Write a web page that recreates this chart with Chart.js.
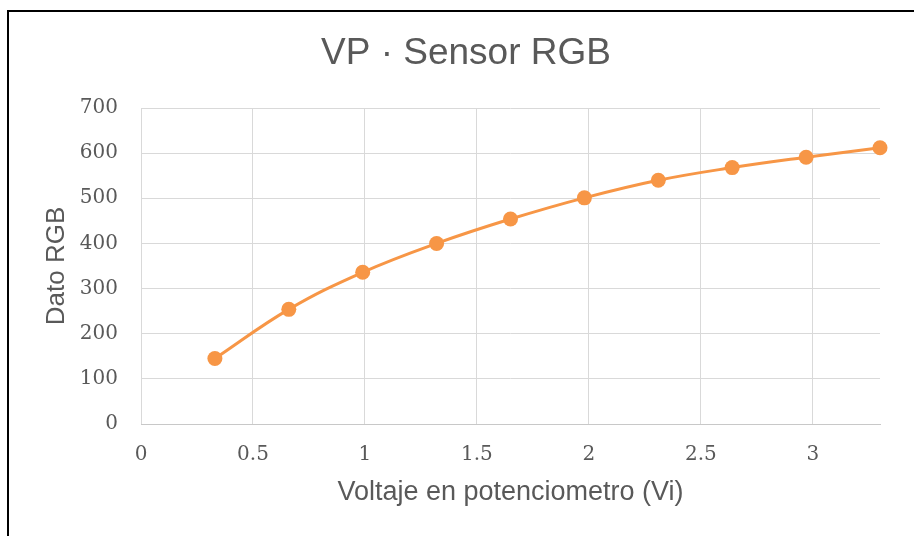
<!DOCTYPE html>
<html>
<head>
<meta charset="utf-8">
<script src="https://cdn.jsdelivr.net/npm/chart.js@4/dist/chart.umd.min.js"></script>
<style>
  html, body { margin: 0; padding: 0; background: #ffffff; }
  #wrap { width: 914px; height: 536px; position: relative; }
</style>
</head>
<body>
<div id="wrap"><canvas id="c" width="914" height="536"></canvas></div>
<script>
// Data
const voltages = [0.33, 0.66, 0.99, 1.32, 1.65, 1.98, 2.31, 2.64, 2.97, 3.3];
const rgbValues = [145, 254, 336, 400, 454, 501, 540, 568, 591, 612];
const xTicks = [0, 0.5, 1, 1.5, 2, 2.5, 3];
const yTicks = [0, 100, 200, 300, 400, 500, 600, 700];
const chartTitle = 'VP · Sensor RGB';
const xTitle = 'Voltaje en potenciometro (Vi)';
const yTitle = 'Dato RGB';

const frame = {
  id: 'frame',
  beforeDraw(chart) {
    const ctx = chart.ctx;
    ctx.save();
    ctx.fillStyle = '#ffffff';
    ctx.fillRect(0, 0, chart.width, chart.height);
    ctx.strokeStyle = '#000000';
    ctx.lineWidth = 2;
    ctx.beginPath();
    ctx.moveTo(8, 536);
    ctx.lineTo(8, 11);
    ctx.lineTo(914, 11);
    ctx.stroke();
    // chart title (centred on the framed box)
    ctx.fillStyle = '#595959';
    ctx.font = '37px "Liberation Sans", Arial, sans-serif';
    ctx.textAlign = 'center';
    ctx.textBaseline = 'alphabetic';
    ctx.fillText(chartTitle, 466, 64);
    ctx.restore();
  }
};

new Chart(document.getElementById('c'), {
  type: 'scatter',
  data: {
    datasets: [{
      data: voltages.map((v, i) => ({ x: v, y: rgbValues[i] })),
      showLine: true,
      borderColor: '#F79646',
      backgroundColor: '#F79646',
      borderWidth: 3,
      pointRadius: 7.5,
      pointHoverRadius: 7.5,
      pointBorderWidth: 0,
      tension: 0.4,
      clip: false
    }]
  },
  options: {
    responsive: false,
    animation: false,
    layout: { padding: { left: 0, right: 34, top: 108, bottom: 0 } },
    plugins: {
      legend: { display: false },
      tooltip: { enabled: false },
      title: { display: false }
    },
    scales: {
      x: {
        type: 'linear',
        min: 0,
        max: 3.3,
        afterBuildTicks(scale) { scale.ticks = xTicks.map(v => ({ value: v })); },
        afterFit(scale) { scale.height = 112; },
        grid: { color: '#D9D9D9', lineWidth: 1, drawTicks: false },
        border: { display: true, color: '#C8C8C8', width: 1 },
        ticks: {
          color: '#595959',
          padding: 19,
          font: { family: 'DejaVu Serif, Liberation Serif, serif', size: 20 },
          callback: v => String(v)
        },
        title: {
          display: true,
          text: xTitle,
          color: '#595959',
          font: { family: 'Liberation Sans, Arial, sans-serif', size: 27 },
          padding: { top: 0, bottom: 27 }
        }
      },
      y: {
        type: 'linear',
        min: 0,
        max: 700,
        afterBuildTicks(scale) { scale.ticks = yTicks.map(v => ({ value: v })); },
        afterFit(scale) { scale.width = 141; },
        grid: { color: '#D9D9D9', lineWidth: 1, drawTicks: false },
        border: { display: false },
        ticks: {
          color: '#595959',
          padding: 23,
          font: { family: 'DejaVu Serif, Liberation Serif, serif', size: 20 }
        },
        title: {
          display: true,
          text: yTitle,
          color: '#595959',
          font: { family: 'Liberation Sans, Arial, sans-serif', size: 26 },
          padding: { top: 41, bottom: 0 }
        }
      }
    }
  },
  plugins: [frame]
});
</script>
</body>
</html>
